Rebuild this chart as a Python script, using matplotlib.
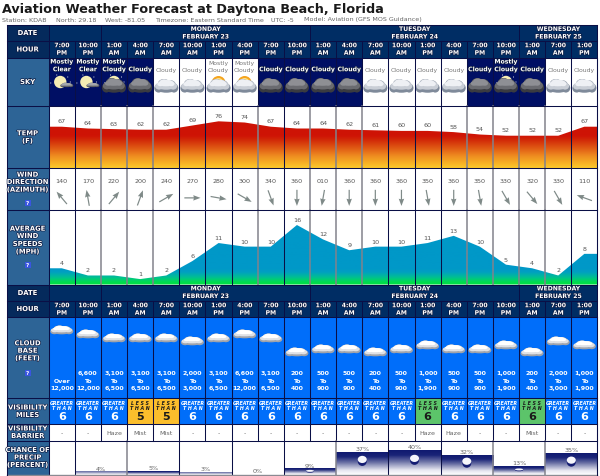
import numpy as np
import matplotlib
matplotlib.use("Agg")
import matplotlib.pyplot as plt
import matplotlib.patheffects as pe
from matplotlib.colors import LinearSegmentedColormap
from matplotlib.patches import Rectangle, Circle, Ellipse, Wedge

W, H = 600, 477
X0, COLW = 48.7, 26.13  #first column edge and column width in px
NCOL = 21

hours = ["7:00 PM", "10:00 PM", "1:00 AM", "4:00 AM", "7:00 AM", "10:00 AM", "1:00 PM", "4:00 PM", "7:00 PM", "10:00 PM",
         "1:00 AM", "4:00 AM", "7:00 AM", "10:00 AM", "1:00 PM", "4:00 PM", "7:00 PM", "10:00 PM", "1:00 AM", "7:00 AM", "1:00 PM"]
dates = [(2, 10, "MONDAY", "FEBRUARY 23"), (10, 18, "TUESDAY", "FEBRUARY 24"), (18, 21, "WEDNESDAY", "FEBRUARY 25")]
sky = ["Mostly Clear", "Mostly Clear", "Mostly Cloudy", "Cloudy", "Cloudy", "Cloudy", "Mostly Cloudy", "Mostly Cloudy", "Cloudy", "Cloudy",
       "Cloudy", "Cloudy", "Cloudy", "Cloudy", "Cloudy", "Cloudy", "Cloudy", "Mostly Cloudy", "Cloudy", "Cloudy", "Cloudy"]
is_night = [1, 1, 1, 1, 0, 0, 0, 0, 1, 1, 1, 1, 0, 0, 0, 0, 1, 1, 1, 0, 0]
temp = [67, 64, 63, 62, 62, 69, 76, 74, 67, 64, 64, 62, 61, 60, 60, 58, 54, 52, 52, 52, 67]
wind_dir = ["140", "170", "220", "200", "240", "270", "280", "300", "340", "360", "010",
            "360", "360", "360", "350", "360", "350", "330", "320", "330", "110"]
wind_speed = [4, 2, 2, 1, 2, 6, 11, 10, 10, 16, 12, 9, 10, 10, 11, 13, 10, 5, 4, 2, 8]
cloud_base = ["Over\n12,000", "6,600\nTo\n12,000", "3,100\nTo\n6,500", "3,100\nTo\n6,500", "3,100\nTo\n6,500", "2,000\nTo\n3,000",
              "3,100\nTo\n6,500", "6,600\nTo\n12,000", "3,100\nTo\n6,500", "200\nTo\n400", "500\nTo\n900", "500\nTo\n900",
              "200\nTo\n400", "500\nTo\n900", "1,000\nTo\n1,900", "500\nTo\n900", "500\nTo\n900", "1,000\nTo\n1,900",
              "200\nTo\n400", "2,000\nTo\n3,000", "1,000\nTo\n1,900"]
vis_word = ["GREATER", "GREATER", "GREATER", "LESS", "LESS", "GREATER", "GREATER", "GREATER", "GREATER", "GREATER", "GREATER",
            "GREATER", "GREATER", "GREATER", "LESS", "GREATER", "GREATER", "GREATER", "LESS", "GREATER", "GREATER"]
vis_miles = [6, 6, 6, 5, 5, 6, 6, 6, 6, 6, 6, 6, 6, 6, 6, 6, 6, 6, 6, 6, 6]
barrier = ["-", "-", "Haze", "Mist", "Mist", "-", "-", "-", "-", "-", "-", "-", "-", "-", "Haze", "Haze", "-", "-", "Mist", "-", "-"]
precip_start = [1, 3, 5, 7, 9, 11, 13, 15, 17, 19]
precip = [4, 5, 3, 0, 9, 37, 40, 32, 13, 35]

#colours
NAVY = (0/255, 45/255, 100/255)
LABEL = (45/255, 100/255, 150/255)
NIGHT = (0/255, 15/255, 100/255)
BLUE = (0/255, 110/255, 250/255)
DARK = (10/255, 15/255, 70/255)
GRAY = (130/255, 130/255, 140/255)
gray_edges = [2, 3, 4, 8, 10, 11, 12, 16, 17, 18, 19]
cloud_y = {"Over": 331, "6,600": 335, "3,100": 339, "2,000": 342, "1,000": 346, "500": 350, "200": 353}

fig = plt.figure(figsize=(6, 4.77), dpi=100)
fig.patch.set_facecolor("white")


def panel(top, bottom, ylim):
    ax = fig.add_axes([X0/W, 1-bottom/H, (NCOL*COLW)/W, (bottom-top)/H], zorder=1)
    ax.set_xlim(0, NCOL)
    ax.set_ylim(*ylim)
    ax.axis("off")
    return ax


def area(ax, values, cmap, ext):
    #gradient clipped to the area under the line through the column centres
    x = np.r_[0, np.arange(NCOL)+0.5, NCOL]
    y = np.r_[values[0], values, values[-1]]
    poly = ax.fill_between(x, y, ext[0], color="none")
    im = ax.imshow(np.linspace(1, 0, 256).reshape(-1, 1), extent=(0, NCOL, ext[0], ext[1]), aspect="auto", cmap=cmap, origin="upper")
    im.set_clip_path(poly.get_paths()[0], transform=ax.transData)
    ax.set_xlim(0, NCOL)
    ax.set_ylim(*ext)


axt = panel(107, 169, (-1.8, 101.5))
tcmap = LinearSegmentedColormap.from_list("t", [(0, "#fcca2c"), (0.07, "#f8b426"), (0.2, "#ee8a20"), (0.32, "#e05a14"), (0.45, "#d22a08"), (0.52, "#cf1405"), (1, "#cc1005")])
area(axt, temp, tcmap, (-1.8, 101.5))
for i, t in enumerate(temp):
    axt.annotate(str(t), (i+0.5, t), xytext=(0, 3.6*0.72), textcoords="offset points", ha="center", va="bottom",
                 fontsize=4.6, color="#555555")

axw = panel(210.5, 285.5, (-0.5, 20.3))
wcmap = LinearSegmentedColormap.from_list("w", [(0, "#00e040"), (0.04, "#00dc50"), (0.1, "#00c090"), (0.17, "#00a0c0"), (0.22, "#0098c8"), (1, "#0098c8")])
area(axw, wind_speed, wcmap, (-0.5, 20.3))
for i, v in enumerate(wind_speed):
    axw.annotate(str(v), (i+0.5, v), xytext=(0, 3*0.72), textcoords="offset points", ha="center", va="bottom",
                 fontsize=4.6, color="#555555")

axd = panel(169, 210.5, (0, 1))
az = np.radians(np.array(wind_dir, dtype=float)+180)
axd.quiver(np.arange(NCOL)+0.5, np.full(NCOL, 0.28), np.sin(az), np.cos(az), angles="uv", scale_units="inches", scale=6.2,
           pivot="mid", width=0.0022, headwidth=4.5, headlength=6, headaxislength=5.5, color="#7f8a88")
for i, d in enumerate(wind_dir):
    axd.text(i+0.5, 0.7, d, ha="center", va="center", fontsize=4.6, color="#555555")

axp = panel(441.5, 476, (-1, 56))
pcmap = LinearSegmentedColormap.from_list("p", [(0, "#ffffff"), (0.2, "#e6e6f0"), (0.55, "#6a70a4"), (0.8, "#1a2478"), (1, "#101a70")])
for s, p in zip(precip_start, precip):
    if p > 0:
        axp.imshow(np.linspace(1, 0, 64).reshape(-1, 1), extent=(s, s+2, -1, p), aspect="auto", cmap=pcmap, origin="upper", zorder=1,
                   alpha=0.6 if p < 5 else 1)
    axp.text(s+1, p+2, f"{p}%", ha="center", va="bottom", fontsize=4.6, color="#666666", zorder=3)
    if p >= 9:
        ew, eh = (9, 9) if p > 20 else (8, 2.5)
        cy = p-0.41*(p+1)
        axp.add_patch(Ellipse((s+1, cy), ew/COLW, eh/0.605, fc="#141c72", ec="none", zorder=2))
        axp.add_patch(Ellipse((s+1, cy+0.22*eh/0.605), ew/COLW, eh/0.605*0.8, fc="#f6f6fb", ec="none", zorder=2))
axp.set_xlim(0, NCOL)
axp.set_ylim(-1, 56)

#pixel overlay for the table itself
ax = fig.add_axes([0, 0, 1, 1], zorder=2)
ax.set_xlim(0, W)
ax.set_ylim(H, 0)
ax.axis("off")
ax.patch.set_alpha(0)


def col_x(i):
    return X0+i*COLW


def cell(x0, x1, y0, y1, color):
    ax.add_patch(Rectangle((x0, y0), x1-x0, y1-y0, fc=color, ec="none", zorder=1))


def label(x, y, s, size=4.4, color="white", weight="bold", shadow=True, **kw):
    t = ax.text(x, y, s, ha=kw.pop("ha", "center"), va="center", fontsize=size, color=color, fontweight=weight, zorder=6, **kw)
    if shadow:
        t.set_path_effects([pe.withStroke(linewidth=0.9, foreground=(0.05, 0.1, 0.25))])
    return t


def blob(cx, cy, w, h, fill):
    #cloud outline from overlapping ellipses, scaled to w x h px
    for dx, dy, ew, eh in [(-0.32, 0.16, 0.36, 0.62), (0.32, 0.14, 0.36, 0.66), (-0.1, -0.1, 0.52, 0.8), (0.16, -0.02, 0.5, 0.8), (0, 0.2, 0.8, 0.56)]:
        ax.add_patch(Ellipse((cx+dx*w, cy+dy*h), ew*w, eh*h, fc=fill, ec="none", zorder=4))


def cloud(cx, cy, w, h, shades):
    blob(cx, cy, w, h, shades[0])
    blob(cx-0.2, cy-0.1*h, w*0.92, h*0.76, shades[1])
    blob(cx-0.4, cy-0.22*h, w*0.72, h*0.5, shades[2])


def moon(cx, cy):
    ax.add_patch(Circle((cx, cy), 6.2, fc="#f6edb4", ec="none", zorder=3))
    for dx, dy in [(-9.5, 1), (7.5, -5), (-3.5, -7), (10, 0)]:
        ax.add_patch(Circle((cx+dx, cy+dy), 0.5, fc="white", ec="none", zorder=3))


def sun(cx, cy):
    ax.add_patch(Wedge((cx, cy), 7, 180, 360, width=3.2, fc="#f5a41e", ec="none", zorder=3))
    ax.add_patch(Wedge((cx, cy), 5, 180, 360, fc="#fbe08a", ec="none", zorder=3))


#outer table background and left label column
rows = [(26, 42), (42, 58.5), (58.5, 107), (107, 169), (169, 210.5), (210.5, 285.5),
        (285.5, 302), (302, 318), (318, 399), (399, 425), (425, 441.5), (441.5, 476)]
for y0, y1 in rows:
    cell(7, X0, y0, y1, LABEL)
for y0, y1 in [rows[0], rows[1], rows[6], rows[7]]:
    cell(7, 597, y0, y1, NAVY)
    cell(7, X0, y0, y1, (5/255, 42/255, 92/255))

#date and hour rows
for y_date, y_hour in [(26, 42), (285.5, 302)]:
    for s, e, day, dt in dates:
        cx = (col_x(s)+col_x(e))/2
        label(cx, y_date+4.4, day)
        label(cx, y_date+12, dt)
    for xe in [X0, col_x(2), col_x(10), col_x(18)]:
        ax.plot([xe, xe], [y_date, y_date+16], color=DARK, lw=0.7, zorder=5)
for y_hour in [42, 302]:
    for i, s in enumerate(hours):
        a, b = s.split(" ")
        label(col_x(i)+COLW/2, y_hour+4.7, a)
        label(col_x(i)+COLW/2, y_hour+12.2, b)

#sky row
for i, s in enumerate(sky):
    cx = col_x(i)+COLW/2
    cell(col_x(i), col_x(i+1), 58.5, 107, NIGHT if is_night[i] else "white")
    lines = s.split(" ")
    ys = [70.7] if len(lines) == 1 else [63, 70.7]
    for yy, word in zip(ys, lines):
        if is_night[i]:
            label(cx, yy, word)
        else:
            label(cx, yy, word, color="#777777", weight="normal", shadow=False)
    if s == "Mostly Clear":
        moon(cx-1.5, 83)
        cloud(cx+5, 86, 13, 4.5, ["#55585f", "#8a8d92", "#a5a8ac"])
    elif is_night[i]:
        if s == "Mostly Cloudy":
            moon(cx, 83)
        cloud(cx, 86.5, 24, 15, ["#3a3b40", "#6a6b70", "#8e8f94"])
    else:
        if s == "Mostly Cloudy":
            sun(cx, 84)
        cloud(cx, 87, 24, 14, ["#7f8a9a", "#c9ced6", "#eef0f4"])

#cloud base row
cell(X0, 597, 318, 399, BLUE)
for i, s in enumerate(cloud_base):
    cx = col_x(i)+COLW/2
    cloud(cx, cloud_y[s.split("\n")[0]], 23, 9, ["#9fa3ab", "#dfe1e5", "#ffffff"])
    lines = s.split("\n")
    for yy, word in zip([388.7, 381.3, 374], lines[::-1]):
        label(cx, yy, word, size=4.5, shadow=False)

#visibility rows
for i in range(NCOL):
    cx = col_x(i)+COLW/2
    less = vis_word[i] == "LESS"
    bg = BLUE if not less else ("#5cc46a" if vis_miles[i] == 6 else "#fbbe2c")
    cell(col_x(i), col_x(i+1), 399, 425, bg)
    ink = "#1a1a1a" if less else "white"
    spaced = "L E S S" if less else "GREATER"
    label(cx, 403.3, spaced, size=3.4, color=ink, shadow=False, style="italic")
    label(cx, 408.6, "T H A N", size=3.4, color=ink, shadow=False, style="italic")
    label(cx, 417.3, str(vis_miles[i]), size=8, color=ink, shadow=False)
    cell(col_x(i), col_x(i+1), 425, 441.5, "white")
    label(cx, 433.5, barrier[i], size=4.6, color="#666666", weight="normal", shadow=False)

#vertical grid lines
for y0, y1 in [(42, 58.5), (302, 318)]:
    for e in range(NCOL+1):
        ax.plot([col_x(e)]*2, [y0, y1], color=DARK, lw=0.7, zorder=5)
for y0, y1 in [(58.5, 107), (107, 169), (169, 210.5), (210.5, 285.5), (318, 399), (399, 425), (425, 441.5)]:
    for e in range(NCOL+1):
        gray = e in gray_edges and y0 >= 107 and y0 < 300
        if y0 == 425 or y0 == 58.5:
            gray = False
        ax.plot([col_x(e)]*2, [y0, y1], color=GRAY if gray else DARK, lw=1.1 if gray else 0.75, zorder=5)
for e in [0]+[s for s in precip_start]+[21]:
    ax.plot([col_x(e)]*2, [441.5, 476], color=GRAY if e in gray_edges else DARK, lw=1.1 if e in gray_edges else 0.75, zorder=5)

#horizontal rules
for y in [26, 42, 58.5, 107, 169, 210.5, 285.5, 302, 318, 399, 425, 441.5]:
    ax.plot([7, 597], [y, y], color=DARK, lw=0.75, zorder=5)
ax.plot([7, 597], [476, 476], color="#8a8a92", lw=1.0, zorder=5)
ax.plot([7, 7], [26, 477], color=DARK, lw=0.75, zorder=5)
ax.plot([597, 597], [26, 477], color=DARK, lw=0.75, zorder=5)

#row labels
for y, s in [(34, "DATE"), (50.5, "HOUR"), (294, "DATE"), (310, "HOUR"), (83, "SKY"), (134.3, "TEMP"), (142, "(F)"),
             (175.7, "WIND"), (183, "DIRECTION"), (190.7, "(AZIMUTH)"), (229.7, "AVERAGE"), (237, "WIND"), (245, "SPEEDS"), (252.7, "(MPH)"),
             (344.3, "CLOUD"), (351.7, "BASE"), (359.3, "(FEET)"), (408.5, "VISIBILITY"), (416, "MILES"),
             (429.5, "VISIBILITY"), (437, "BARRIER"), (451, "CHANCE OF"), (458.5, "PRECIP"), (466, "(PERCENT)")]:
    label(27.5, y, s, size=4.9)
for y in [204, 266, 373.7]:
    ax.add_patch(Rectangle((24.5, y-3), 6, 6, fc="#3a55e0", ec="none", zorder=5))
    label(27.5, y, "?", size=4, shadow=False)

#header text
ax.text(2, 9, "Aviation Weather Forecast at Daytona Beach, Florida", fontsize=9.2, fontweight="bold", color="#1a1a1a", va="center", ha="left")
for x, s in [(2, "Station: KDAB"), (55.7, "North: 29.18"), (105, "West: -81.05"), (155, "Timezone: Eastern Standard Time"),
             (271, "UTC: -5"), (304, "Model: Aviation (GFS MOS Guidance)")]:
    ax.text(x, 20, s, fontsize=4.6, color="#666666", va="center", ha="left")

fig.savefig("out.png", dpi=100)
